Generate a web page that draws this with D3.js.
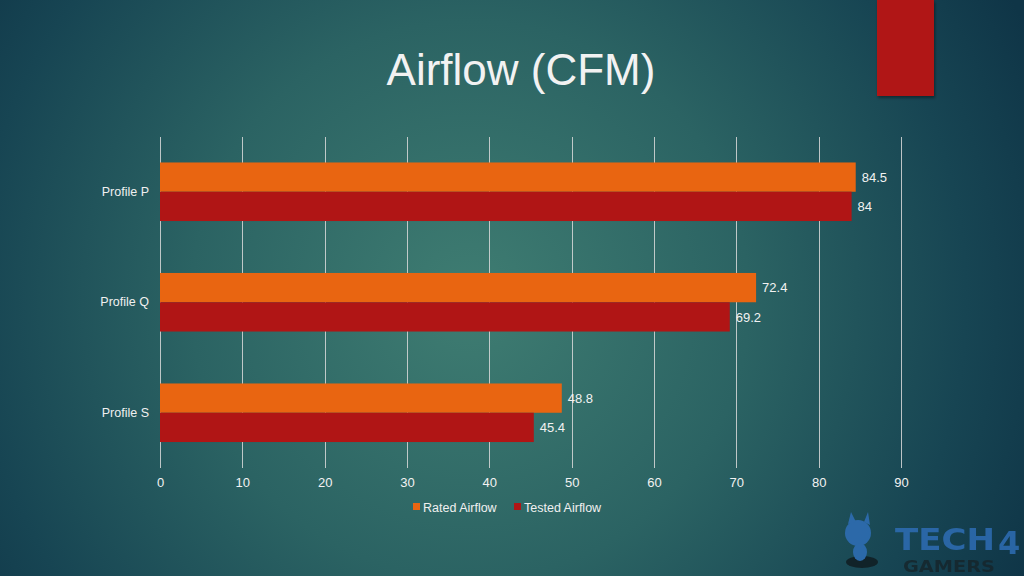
<!DOCTYPE html>
<html><head><meta charset="utf-8">
<script src="https://cdn.jsdelivr.net/npm/d3@7"></script>
<style>html,body{margin:0;padding:0;background:#143e4a;}svg{display:block;}</style>
</head><body>
<script>
const categories = ["Profile P", "Profile Q", "Profile S"];
const seriesNames = ["Rated Airflow", "Tested Airflow"];
const ratedAirflow = [84.5, 72.4, 48.8];
const testedAirflow = [84, 69.2, 45.4];
const xTicks = [0, 10, 20, 30, 40, 50, 60, 70, 80, 90];
const colors = ["#e96511", "#b01515"];

const W = 1024, H = 576;
const svg = d3.select("body").append("svg").attr("width", W).attr("height", H);
const defs = svg.append("defs");
const rg = defs.append("radialGradient").attr("id", "bg")
  .attr("gradientUnits", "userSpaceOnUse").attr("cx", 470).attr("cy", 300).attr("r", 620);
rg.append("stop").attr("offset", "0").attr("stop-color", "#3f7d72");
rg.append("stop").attr("offset", "0.45").attr("stop-color", "#2b6363");
rg.append("stop").attr("offset", "0.8").attr("stop-color", "#174553");
rg.append("stop").attr("offset", "1").attr("stop-color", "#0f3547");
svg.append("rect").attr("width", W).attr("height", H).attr("fill", "url(#bg)");

const sh = defs.append("filter").attr("id", "sh").attr("x", "-20%").attr("y", "-20%").attr("width", "140%").attr("height", "140%");
sh.append("feDropShadow").attr("dx", 1).attr("dy", 2).attr("stdDeviation", 1.5).attr("flood-color", "#000").attr("flood-opacity", 0.4);
svg.append("rect").attr("x", 877).attr("y", 0).attr("width", 57).attr("height", 96)
  .attr("fill", "#b01515").attr("filter", "url(#sh)");

svg.append("text").attr("x", 521).attr("y", 85).attr("text-anchor", "middle")
  .attr("font-family", "Liberation Sans, Arial, sans-serif").attr("font-size", 44)
  .attr("fill", "#f2f2f2").text("Airflow (CFM)");

const x = d3.scaleLinear().domain([0, 90]).range([160, 901]);
const y = d3.scaleBand().domain(categories).range([136.5, 468]).paddingInner(0.47).paddingOuter(0.235);
const ySub = d3.scaleBand().domain(seriesNames).range([0, y.bandwidth()]);

const font = "Liberation Sans, Arial, sans-serif";
// gridlines
svg.append("g").selectAll("line").data(xTicks).join("line")
  .attr("x1", d => Math.round(x(d)) + 0.5).attr("x2", d => Math.round(x(d)) + 0.5)
  .attr("y1", 137).attr("y2", 468)
  .attr("stroke", "#d9d9d9").attr("stroke-opacity", 0.85).attr("stroke-width", 1);

// x axis labels
const xAxis = d3.axisBottom(x).tickValues(xTicks).tickSize(0).tickPadding(0);
const gx = svg.append("g").attr("transform", "translate(0,478)").call(xAxis);
gx.select(".domain").remove();
gx.selectAll("text").attr("font-family", font).attr("font-size", 13).attr("fill", "#f2f2f2").attr("dy", "0.71em");

// y axis labels
const yAxis = d3.axisLeft(y).tickSize(0).tickPadding(11);
const gy = svg.append("g").attr("transform", "translate(160,0)").call(yAxis);
gy.select(".domain").remove();
gy.selectAll("text").attr("font-family", font).attr("font-size", 12.5).attr("fill", "#f0f0f0");

const rows = categories.map((c, i) => ({cat: c, vals: [
  {s: seriesNames[0], v: ratedAirflow[i], c: colors[0]},
  {s: seriesNames[1], v: testedAirflow[i], c: colors[1]}]}));

const grp = svg.append("g").selectAll("g").data(rows).join("g")
  .attr("transform", d => `translate(0,${y(d.cat)})`);
grp.selectAll("rect").data(d => d.vals).join("rect")
  .attr("x", x(0)).attr("y", d => ySub(d.s))
  .attr("width", d => x(d.v) - x(0)).attr("height", ySub.bandwidth())
  .attr("fill", d => d.c);
grp.selectAll("text").data(d => d.vals).join("text")
  .attr("x", d => x(d.v) + 6).attr("y", d => ySub(d.s) + ySub.bandwidth() / 2)
  .attr("dy", "0.36em").attr("font-family", font).attr("font-size", 13)
  .attr("fill", "#f2f2f2").text(d => d.v);

// legend
const leg = svg.append("g");
const legX = [413, 514];
seriesNames.forEach((s, i) => {
  leg.append("rect").attr("x", legX[i]).attr("y", 503).attr("width", 7).attr("height", 7).attr("fill", colors[i]);
  leg.append("text").attr("x", legX[i] + 10).attr("y", 511.5).attr("font-family", font)
    .attr("font-size", 12.5).attr("fill", "#f0f0f0").text(s);
});

// watermark logo
const logo = svg.append("g").attr("opacity", 0.85);
logo.append("ellipse").attr("cx", 862).attr("cy", 562).attr("rx", 16).attr("ry", 6).attr("fill", "#101d22");
logo.append("circle").attr("cx", 858).attr("cy", 533).attr("r", 13).attr("fill", "#2f6fb8");
logo.append("path").attr("d", "M848,524 L851,512 L856,522 Z M864,522 L868,512 L870,525 Z").attr("fill", "#2f6fb8");
logo.append("ellipse").attr("cx", 860).attr("cy", 552).attr("rx", 7).attr("ry", 9).attr("fill", "#2f6fb8");
logo.append("text").attr("x", 895).attr("y", 550).attr("font-family", "DejaVu Sans, sans-serif")
  .attr("font-weight", "bold").attr("font-size", 30).attr("textLength", 100).attr("lengthAdjust", "spacingAndGlyphs")
  .attr("fill", "#2e6db5").text("TECH");
logo.append("text").attr("x", 998).attr("y", 554).attr("font-family", "DejaVu Sans, sans-serif")
  .attr("font-weight", "bold").attr("font-size", 32)
  .attr("fill", "#2e6db5").text("4");
logo.append("text").attr("x", 903).attr("y", 572).attr("font-family", "DejaVu Sans, sans-serif")
  .attr("font-weight", "bold").attr("font-size", 16).attr("textLength", 92).attr("lengthAdjust", "spacingAndGlyphs")
  .attr("fill", "#16262c").text("GAMERS");
</script>
</body></html>
